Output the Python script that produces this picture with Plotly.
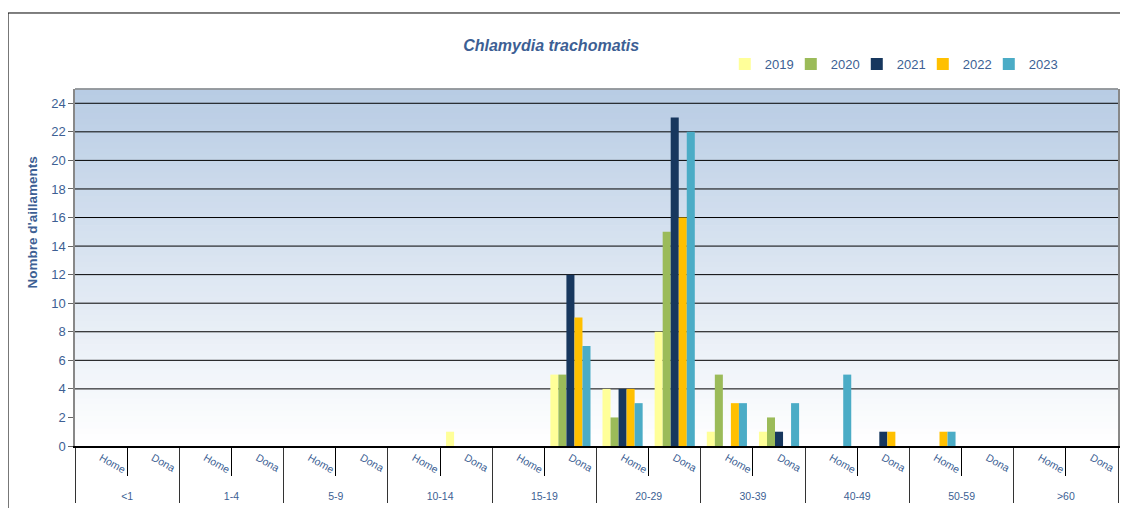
import plotly.graph_objects as go

# categories
groups = ["<1", "1-4", "5-9", "10-14", "15-19", "20-29", "30-39", "40-49", "50-59", ">60"]
sexes = ["Home", "Dona"]
years = ["2019", "2020", "2021", "2022", "2023"]

# values, one per (group, sex) -> Home, Dona for each age group
v2019 = [0, 0, 0, 0, 0, 0, 0, 1, 0, 5, 4, 8, 1, 1, 0, 0, 0, 0, 0, 0]
v2020 = [0, 0, 0, 0, 0, 0, 0, 0, 0, 5, 2, 15, 5, 2, 0, 0, 0, 0, 0, 0]
v2021 = [0, 0, 0, 0, 0, 0, 0, 0, 0, 12, 4, 23, 0, 1, 0, 1, 0, 0, 0, 0]
v2022 = [0, 0, 0, 0, 0, 0, 0, 0, 0, 9, 4, 16, 3, 0, 0, 1, 1, 0, 0, 0]
v2023 = [0, 0, 0, 0, 0, 0, 0, 0, 0, 7, 3, 22, 3, 3, 5, 0, 1, 0, 0, 0]
series = [v2019, v2020, v2021, v2022, v2023]

colors = ["#FFFF99", "#9BBB59", "#17375E", "#FFC000", "#4BACC6"]
txt = "#3D5F94"
font = "Liberation Sans, Arial, sans-serif"

x_outer = [g for g in groups for s in sexes]
x_inner = [s for g in groups for s in sexes]

fig = go.Figure()
for yr, vals, c in zip(years, series, colors):
    fig.add_trace(go.Bar(x=[x_outer, x_inner], y=vals, name=yr,
                         marker=dict(color=c, line=dict(width=0))))
# empty legend slot so the last year label is not clipped by the legend box
fig.add_trace(go.Scatter(x=[[None], [None]], y=[None], name="", mode="none",
                         hoverinfo="skip"))

# gradient background for the plot area
shapes = []
n = 60
top = (184, 204, 228)
for i in range(n):
    t = i / (n - 1)
    r = round(255 + (top[0] - 255) * t)
    g = round(255 + (top[1] - 255) * t)
    b = round(255 + (top[2] - 255) * t)
    shapes.append(dict(type="rect", xref="paper", yref="paper", x0=0, x1=1,
                       y0=i / n, y1=(i + 1) / n + 0.002, layer="below",
                       line=dict(width=0), fillcolor=f"rgb({r},{g},{b})"))
# grid lines (no line at 2 in the original)
for yv in range(4, 25, 2):
    shapes.append(dict(type="line", xref="paper", yref="y", x0=0, x1=1, y0=yv, y1=yv,
                       layer="below", line=dict(color="black", width=1)))
# top border of plot area
shapes.append(dict(type="line", xref="paper", yref="paper", x0=0, x1=1, y0=1, y1=1,
                   line=dict(color="#888888", width=1.5)))
# outer frame
shapes.append(dict(type="rect", xref="paper", yref="paper", x0=-0.0642, x1=1.05,
                   y0=-0.3, y1=1.2129, line=dict(color="black", width=1)))

# the page adds an 8px body margin, so the figure is 8px smaller
fig.update_layout(
    width=1120, height=500,
    margin=dict(l=67, r=10, t=81, b=62, autoexpand=False),
    paper_bgcolor="white", plot_bgcolor="white",
    font=dict(family=font, color=txt),
    barmode="group", bargap=0.23, bargroupgap=0,
    title=dict(text="<b><i>Chlamydia trachomatis</i></b>", x=0.485, xanchor="center",
               y=0.926, yanchor="middle", font=dict(size=16, color=txt)),
    legend=dict(orientation="h", x=0.623, xanchor="left", y=1.07, yanchor="middle",
                font=dict(size=13, color=txt), entrywidth=21, entrywidthmode="pixels",
                bgcolor="rgba(0,0,0,0)", itemclick=False),
    shapes=shapes,
    annotations=[dict(text="<b>Nombre d'aillaments</b>", textangle=-90, xref="paper",
                      yref="paper", x=-0.041, y=0.627, xanchor="center", yanchor="middle",
                      showarrow=False, font=dict(size=13.5, color=txt))],
)
fig.update_xaxes(showline=True, linecolor="black", linewidth=1.5,
                 tickangle=30, tickfont=dict(size=10.5, color=txt),
                 tickson="boundaries", ticks="outside", ticklen=28, tickcolor="black",
                 dividercolor="#333333", dividerwidth=1, showgrid=False)
fig.update_yaxes(range=[0, 25], tickvals=list(range(0, 25, 2)), showgrid=False,
                 showline=True, linecolor="#888888", linewidth=1.5, mirror=True,
                 ticks="outside", ticklen=5, tickcolor="#666666",
                 tickfont=dict(size=13, color=txt), zeroline=False)

fig.write_html("out.html")
